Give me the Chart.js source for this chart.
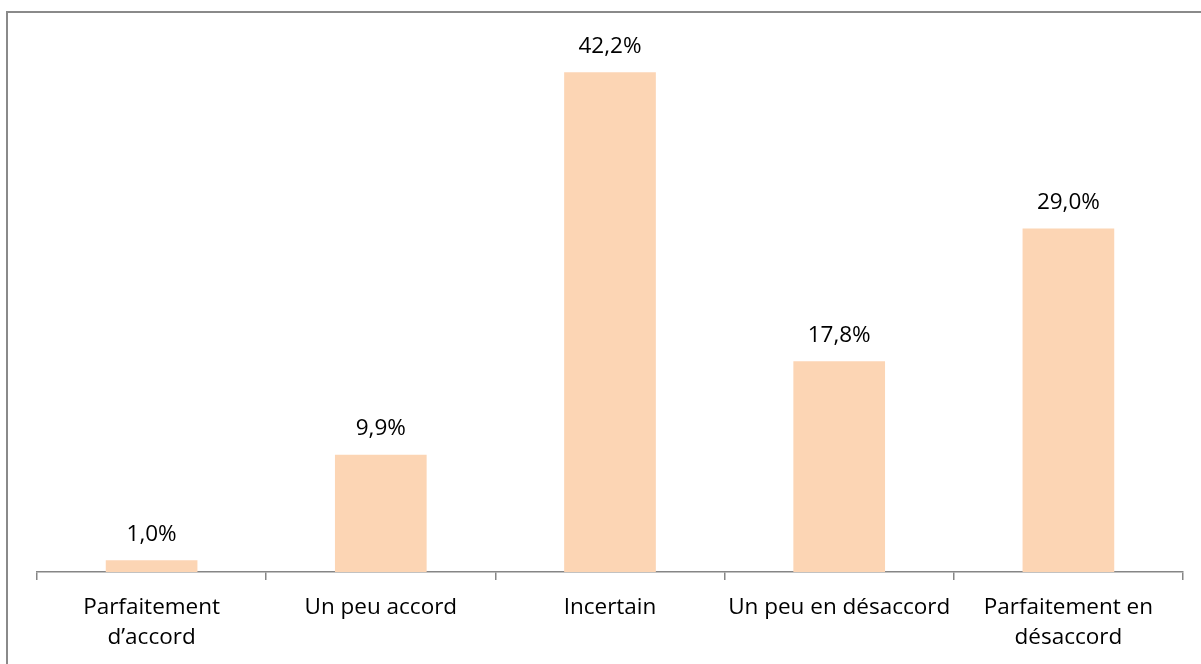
<!DOCTYPE html>
<html>
<head>
<meta charset="utf-8">
<script src="https://cdn.jsdelivr.net/npm/chart.js@4/dist/chart.umd.min.js"></script>
<style>
  html, body { margin:0; padding:0; background:#fff; }
  #wrap { position:relative; width:1201px; height:664px; }
  #frame { position:absolute; left:6px; top:11px; right:-10px; bottom:-10px; border-left:2px solid #8a8a8a; border-top:2px solid #8a8a8a; pointer-events:none; }
  canvas { position:absolute; left:0; top:0; }
</style>
</head>
<body>
<div id="wrap">
  <canvas id="c" width="1201" height="664"></canvas>
  <div id="frame"></div>
</div>
<script>
const categories = [
  ['Parfaitement', 'd\u2019accord'],
  'Un peu accord',
  'Incertain',
  'Un peu en désaccord',
  ['Parfaitement en', 'désaccord']
];
const values = [1.0, 9.9, 42.2, 17.8, 29.0];
const valueLabels = ['1,0%', '9,9%', '42,2%', '17,8%', '29,0%'];

const FONT = '"Open Sans", "Noto Sans", sans-serif';

const dataLabelPlugin = {
  id: 'dataLabels',
  afterDatasetsDraw(chart) {
    const ctx = chart.ctx;
    const meta = chart.getDatasetMeta(0);
    ctx.save();
    ctx.font = '22.5px ' + FONT;
    ctx.fillStyle = '#000';
    ctx.textAlign = 'center';
    ctx.textBaseline = 'middle';
    meta.data.forEach((bar, i) => {
      ctx.fillText(valueLabels[i], bar.x, bar.y - 26);
    });
    ctx.restore();
  }
};

new Chart(document.getElementById('c'), {
  type: 'bar',
  data: {
    labels: categories,
    datasets: [{
      data: values,
      backgroundColor: '#FCD5B4',
      borderWidth: 0,
      categoryPercentage: 1.0,
      barPercentage: 0.4
    }]
  },
  options: {
    responsive: false,
    animation: false,
    devicePixelRatio: 1,
    layout: { padding: { left: 37, right: 18, top: 39, bottom: 0 } },
    plugins: { legend: { display: false }, tooltip: { enabled: false } },
    scales: {
      x: {
        offset: true,
        grid: { display: true, offset: true, drawOnChartArea: false, drawTicks: true, tickLength: 8, color: '#868686', lineWidth: 1.5 },
        border: { display: true, color: '#868686', width: 1.5 },
        ticks: { color: '#000', font: { family: FONT, size: 22.5, lineHeight: 1.32 }, padding: 13, maxRotation: 0, autoSkip: false },
        afterFit(scale) { scale.height = 92; }
      },
      y: {
        display: false,
        min: 0,
        max: 45
      }
    }
  },
  plugins: [dataLabelPlugin]
});
</script>
</body>
</html>
